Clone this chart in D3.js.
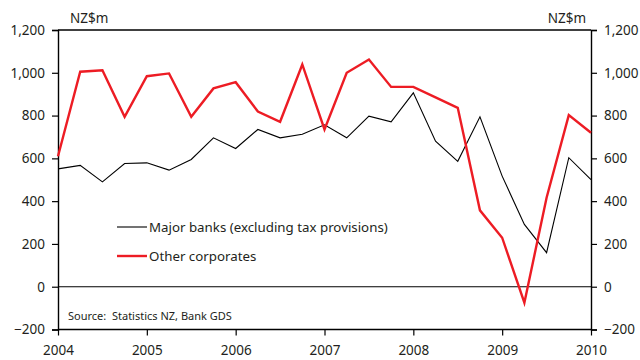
<!DOCTYPE html>
<html><head><meta charset="utf-8">
<script src="https://cdn.jsdelivr.net/npm/d3@7"></script>
<style>body{margin:0;background:#fff}svg{display:block}text{font-family:"Noto Sans",sans-serif;fill:#231f20}</style>
</head><body><svg id="c" width="640" height="360"></svg>
<script>
// Quarterly, 2004 Q1 (2004.0) to 2010.0
const dates = d3.range(25).map(i => 2004 + i * 0.25);
const majorBanks = [551,567,490,576,579,545,595,696,646,735,696,713,757,696,797,771,906,680,586,794,517,291,159,603,501];
const otherCorporates = [610,1005,1012,794,984,997,794,927,956,819,771,1039,735,1000,1062,934,934,885,836,357,229,-75,416,802,720];
const yTicks = [-200,0,200,400,600,800,1000,1200];
const xTicks = [2004,2005,2006,2007,2008,2009,2010];
const seriesNames = ["Major banks (excluding tax provisions)","Other corporates"];
const unitLabel = "NZ$m";
const sourceText = "Source:  Statistics NZ, Bank GDS";

const svg = d3.select("#c");
const L = 58, R = 591, T = 30, B = 329.5;
const x = d3.scaleLinear().domain([2004, 2010]).range([L, R]);
const y = d3.scaleLinear().domain([-200, 1200]).range([B, T]);
const fmt = d3.format(",");

// frame
svg.append("line").attr("x1", L).attr("x2", R).attr("y1", T).attr("y2", T).attr("stroke", "#000").attr("stroke-width", 1.3);
svg.append("line").attr("x1", L).attr("x2", R).attr("y1", y(0)).attr("y2", y(0)).attr("stroke", "#000").attr("stroke-width", 1.1);

const axL = svg.append("g").attr("transform", `translate(${L},0)`)
  .call(d3.axisLeft(y).tickValues(yTicks).tickFormat(fmt).tickSize(6).tickPadding(7));
const axR = svg.append("g").attr("transform", `translate(${R},0)`)
  .call(d3.axisRight(y).tickValues(yTicks).tickFormat(fmt).tickSize(6).tickPadding(7));
const axB = svg.append("g").attr("transform", `translate(0,${B})`)
  .call(d3.axisBottom(x).tickValues(xTicks).tickFormat(d3.format("d")).tickSize(6).tickPadding(10));
[axL, axR, axB].forEach(g => {
  g.selectAll(".domain").attr("stroke", "#000").attr("stroke-width", 1.4);
  g.selectAll(".tick line").attr("stroke", "#000").attr("stroke-width", 1.2);
  g.selectAll("text").style("font-family", '"Noto Sans",sans-serif').style("font-size", "13.5px").attr("fill", "#231f20");
});
axB.select(".domain").attr("d", `M${L},0H${R}`);

// units
svg.append("text").attr("x", 70).attr("y", 23).style("font-size", "13.5px").text(unitLabel);
svg.append("text").attr("x", 586).attr("y", 23).attr("text-anchor", "end").style("font-size", "13.5px").text(unitLabel);

// lines
const line = vals => d3.line().x((d, i) => x(dates[i])).y(d => y(d))(vals);
svg.append("path").attr("d", line(majorBanks)).attr("fill", "none").attr("stroke", "#000").attr("stroke-width", 1.1).attr("stroke-linejoin", "miter");
svg.append("path").attr("d", line(otherCorporates)).attr("fill", "none").attr("stroke", "#ed1c24").attr("stroke-width", 2.4).attr("stroke-linejoin", "miter");

// legend
const leg = [{n: seriesNames[0], c: "#000", w: 1.1, yy: 227}, {n: seriesNames[1], c: "#ed1c24", w: 2.4, yy: 256}];
leg.forEach(l => {
  svg.append("line").attr("x1", 117).attr("x2", 147).attr("y1", l.yy).attr("y2", l.yy).attr("stroke", l.c).attr("stroke-width", l.w);
  svg.append("text").attr("x", 149).attr("y", l.yy).attr("dy", "0.35em").style("font-size", "13.3px").text(l.n);
});

svg.append("text").attr("x", 68).attr("y", 316).attr("dy", "0.35em").style("font-size", "11px").style("white-space", "pre").text(sourceText);
</script></body></html>
